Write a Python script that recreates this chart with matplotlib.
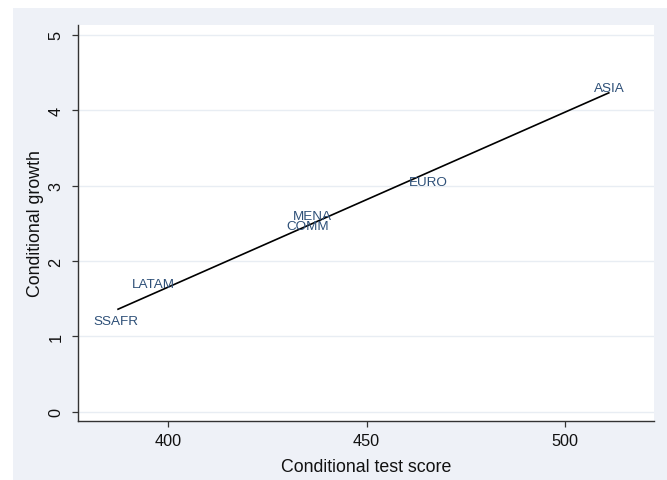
import matplotlib
matplotlib.use("Agg")
import matplotlib.pyplot as plt
from matplotlib.patches import Rectangle

# ---- data ----
regions = ["SSAFR", "LATAM", "MENA", "COMM", "EURO", "ASIA"]
test_score = [386.8, 396.3, 436.4, 435.2, 465.5, 511.2]
growth = [1.21, 1.70, 2.60, 2.47, 3.05, 4.29]
fit_x = [387.3, 511.1]
fit_y = [1.36, 4.23]
x_ticks = [400, 450, 500]
y_ticks = [0, 1, 2, 3, 4, 5]

plt.rcParams['font.family'] = ['Liberation Sans', 'DejaVu Sans']

W, H = 667, 481
fig = plt.figure(figsize=(W / 100, H / 100), dpi=100, facecolor='white')
bg = Rectangle((13 / W, 0), 1 - 13 / W, 1 - 9 / H,
               transform=fig.transFigure, facecolor='#eef1f7',
               edgecolor='none', zorder=-10)
fig.patches.append(bg)

ax = fig.add_axes([78 / W, (H - 422) / H, (654 - 78) / W, (422 - 26) / H])
ax.set_zorder(1)
ax.set_facecolor('white')

ax.plot(fit_x, fit_y, color='black', lw=1.2, zorder=3)
for lab, xv, yv in zip(regions, test_score, growth):
    ax.text(xv, yv, lab, ha='center', va='center', fontsize=9.7,
            color='#2e5078', zorder=4)

ax.set_xlim(377.2, 522.5)
ax.set_ylim(-0.123, 5.13)
ax.set_xticks(x_ticks)
ax.set_yticks(y_ticks)
ax.set_yticklabels([str(v) for v in y_ticks], rotation=90, va='center')

ax.set_axisbelow(True)
ax.yaxis.grid(True, color='#e8edf3', lw=1)

for s in ['top', 'right']:
    ax.spines[s].set_visible(False)
for s in ['left', 'bottom']:
    ax.spines[s].set_color('#333333')
    ax.spines[s].set_linewidth(1.0)

ax.tick_params(axis='both', direction='out', length=4, width=0.9,
               color='#333333', labelcolor='#111111', labelsize=11.7)
ax.tick_params(axis='x', pad=5)
ax.tick_params(axis='y', pad=6.5)

ax.set_xlabel('Conditional test score', fontsize=12.8, color='#111111', labelpad=7)
ax.set_ylabel('Conditional growth', fontsize=12.8, color='#111111', labelpad=3)

fig.savefig('out.png', dpi=100, facecolor=fig.get_facecolor())
